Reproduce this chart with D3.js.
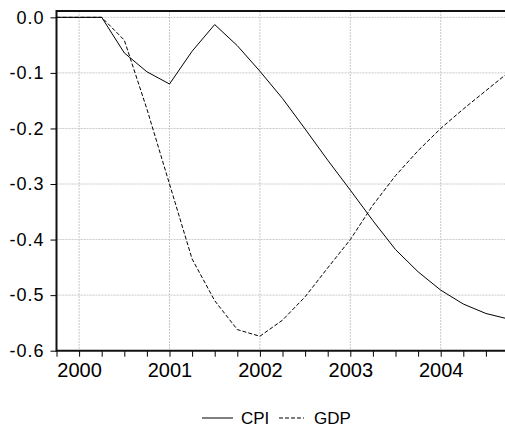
<!DOCTYPE html>
<html>
<head>
<meta charset="utf-8">
<script src="https://cdn.jsdelivr.net/npm/d3@7"></script>
<style>
  body { margin: 0; background: #fff; }
  svg { display: block; font-family: "Liberation Sans", Arial, sans-serif; }
</style>
</head>
<body>
<svg id="chart" width="505" height="430"></svg>
<script>
// quarterly observations, 1999Q4 .. 2004Q4
const quarters = ["1999Q4",
  "2000Q1", "2000Q2", "2000Q3", "2000Q4",
  "2001Q1", "2001Q2", "2001Q3", "2001Q4",
  "2002Q1", "2002Q2", "2002Q3", "2002Q4",
  "2003Q1", "2003Q2", "2003Q3", "2003Q4",
  "2004Q1", "2004Q2", "2004Q3", "2004Q4"];

const cpi = [0, 0, 0, -0.064, -0.098, -0.12, -0.061, -0.013, -0.051, -0.097,
  -0.146, -0.201, -0.257, -0.311, -0.366, -0.418, -0.458, -0.491, -0.516, -0.533, -0.543];

const gdp = [0, 0, 0, -0.041, -0.165, -0.30, -0.435, -0.51, -0.562, -0.574,
  -0.545, -0.503, -0.451, -0.40, -0.338, -0.285, -0.24, -0.20, -0.165, -0.132, -0.099];

const yTicks = [0.0, -0.1, -0.2, -0.3, -0.4, -0.5, -0.6];
const yearLabels = ["2000", "2001", "2002", "2003", "2004"];

const svg = d3.select("#chart");

const plotLeft = 56.5, plotTop = 11, plotBottom = 350.7;

// index of each quarter along the axis
const x = d3.scaleLinear().domain([0, quarters.length - 1]).range([plotLeft, plotLeft + 20 * 22.6]);
const y = d3.scaleLinear().domain([-0.6, 0.0114]).range([plotBottom, plotTop]);

const yearIndex = yr => quarters.indexOf(yr + "Q1");

// grid
const grid = svg.append("g")
  .attr("stroke", "#c8c8c8")
  .attr("stroke-width", 1)
  .attr("stroke-dasharray", "2,1");

grid.selectAll("line.h")
  .data(yTicks.slice(0, -1))
  .enter().append("line")
  .attr("x1", plotLeft).attr("x2", 505)
  .attr("y1", d => y(d)).attr("y2", d => y(d));

grid.selectAll("line.v")
  .data(yearLabels)
  .enter().append("line")
  .attr("x1", d => x(yearIndex(d))).attr("x2", d => x(yearIndex(d)))
  .attr("y1", plotTop).attr("y2", plotBottom);

// y axis
const yAxis = svg.append("g")
  .attr("transform", `translate(${plotLeft},0)`)
  .call(d3.axisLeft(y).tickValues(yTicks).tickSize(6).tickPadding(6));
yAxis.select(".domain").remove();
yAxis.selectAll("text")
  .attr("font-size", 18)
  .attr("letter-spacing", 1)
  .attr("fill", "#000")
  .attr("font-family", "Liberation Sans, Arial, sans-serif")
  .text(d => d === 0 ? "0.0" : d.toFixed(1));

// x axis, a tick every quarter, labels on the years
const xAxis = svg.append("g")
  .attr("transform", `translate(0,${plotBottom})`)
  .call(d3.axisBottom(x).tickValues(d3.range(quarters.length)).tickSize(6).tickPadding(6)
    .tickFormat(i => quarters[i].endsWith("Q1") ? quarters[i].slice(0, 4) : ""));
xAxis.select(".domain").remove();
xAxis.selectAll("text")
  .attr("font-size", 20)
  .attr("fill", "#000")
  .attr("font-family", "Liberation Sans, Arial, sans-serif");

// frame
svg.append("line").attr("x1", plotLeft).attr("x2", 505).attr("y1", plotTop).attr("y2", plotTop)
  .attr("stroke", "#111").attr("stroke-width", 2);
svg.append("line").attr("x1", plotLeft).attr("x2", 505).attr("y1", plotBottom).attr("y2", plotBottom)
  .attr("stroke", "#111").attr("stroke-width", 2);
svg.append("line").attr("x1", plotLeft).attr("x2", plotLeft).attr("y1", plotTop - 1).attr("y2", plotBottom + 1)
  .attr("stroke", "#111").attr("stroke-width", 2);

// series
const line = d3.line().x((d, i) => x(i)).y(d => y(d));

svg.append("path")
  .datum(gdp)
  .attr("d", line)
  .attr("fill", "none")
  .attr("stroke", "#000")
  .attr("stroke-width", 1)
  .attr("stroke-dasharray", "4,2");

svg.append("path")
  .datum(cpi)
  .attr("d", line)
  .attr("fill", "none")
  .attr("stroke", "#000")
  .attr("stroke-width", 1);

// legend
const legend = svg.append("g").attr("transform", "translate(0,418)");
legend.append("line").attr("x1", 202).attr("x2", 233).attr("y1", 0).attr("y2", 0)
  .attr("stroke", "#000");
legend.append("text").attr("x", 241).attr("y", 6).attr("font-size", 17).text("CPI");
legend.append("line").attr("x1", 279).attr("x2", 304).attr("y1", 0).attr("y2", 0)
  .attr("stroke", "#000").attr("stroke-dasharray", "4,2");
legend.append("text").attr("x", 314).attr("y", 6).attr("font-size", 17).text("GDP");
</script>
</body>
</html>
